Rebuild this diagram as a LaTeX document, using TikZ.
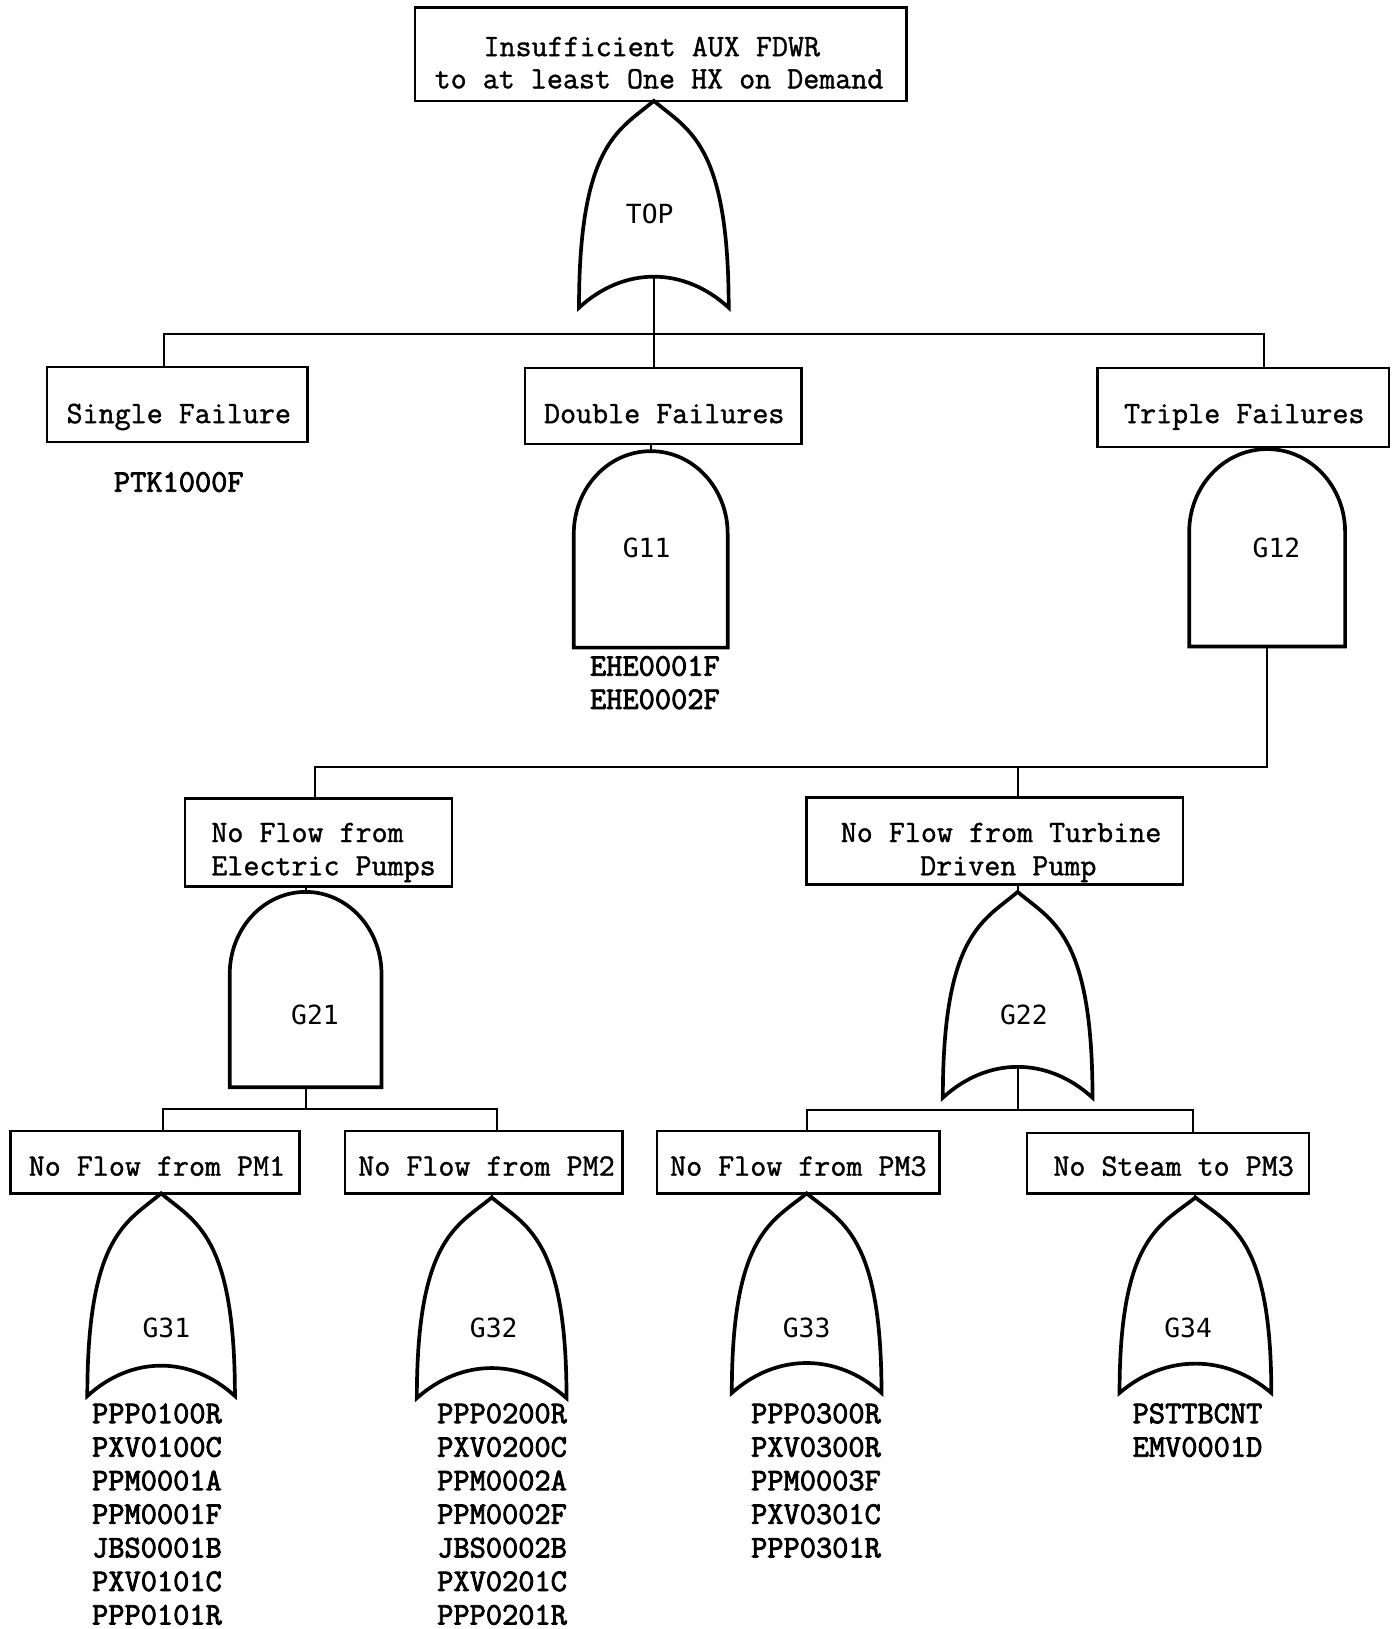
\documentclass[tikz,border=0pt]{standalone}
\usepackage{fontspec}
\setmainfont{Liberation Serif}
\newfontfamily\boxfont{Latin Modern Mono}[FakeBold=1.2]
\newfontfamily\gatefont{DejaVu Sans Mono}
\newfontfamily\codefont{Latin Modern Mono}[FakeBold=2.6]
\def\pxu{0.02079cm}
\newcommand\orgate[8]{%
  \draw[gatestyle] (#2,#3) .. controls ({#2-0.45*#4},{#3+0.14*#5}) and ({#2-#4},{#3+0.2*#5}) .. ({#2-#4},{#3+#5})
    .. controls ({#2-0.4*#4},{#3+0.8*#5}) and ({#2+0.4*#4},{#3+0.8*#5}) .. ({#2+#4},{#3+#5})
    .. controls ({#2+#4},{#3+0.2*#5}) and ({#2+0.45*#4},{#3+0.14*#5}) .. cycle;
  \coordinate (#1-in) at (#2,#3);
  \coordinate (#1-out) at (#2,{#3+0.85*#5});
  \node[gatelbl] (#1) at (#7,#8) {#6};}
\newcommand\andgate[8]{%
  \draw[gatestyle] ({#2-#4},{#3+#5}) -- ({#2-#4},{#3+0.42*#5})
    .. controls ({#2-#4},{#3+0.42*#5-0.5523*0.42*#5}) and ({#2-0.5523*#4},#3) .. (#2,#3)
    .. controls ({#2+0.5523*#4},#3) and ({#2+#4},{#3+0.42*#5-0.5523*0.42*#5}) .. ({#2+#4},{#3+0.42*#5})
    -- ({#2+#4},{#3+#5}) -- cycle;
  \coordinate (#1-in) at (#2,#3);
  \coordinate (#1-out) at (#2,{#3+#5});
  \node[gatelbl] (#1) at (#7,#8) {#6};}
\begin{document}
\begin{tikzpicture}[x=\pxu,y=-\pxu,
  box/.style={draw, line width=1.4pt, rectangle, inner sep=0pt},
  boxtxt/.style={font=\boxfont\fontsize{17.7}{21}\selectfont, anchor=base, inner sep=0pt},
  gatestyle/.style={draw, line width=2.1pt, line join=miter},
  gatelbl/.style={font=\gatefont\fontsize{15}{18}\selectfont, anchor=base, inner sep=0pt},
  conn/.style={line width=1.2pt},
  code/.style={font=\codefont\fontsize{17.9}{21}\selectfont, anchor=base, inner sep=0pt}]
\useasboundingbox (0,0) rectangle (1340.1,1567.1);

% boxes
\node[box, minimum width=473*\pxu, minimum height=90*\pxu] (topev) at (635.5,52) {};
\node[box, minimum width=251*\pxu, minimum height=72*\pxu] (single) at (170.5,389) {};
\node[box, minimum width=266*\pxu, minimum height=73*\pxu] (double) at (638,390.5) {};
\node[box, minimum width=280*\pxu, minimum height=76*\pxu] (triple) at (1196,392) {};
\node[box, minimum width=257*\pxu, minimum height=85*\pxu] (elec) at (306.5,810.5) {};
\node[box, minimum width=362*\pxu, minimum height=84*\pxu] (turb) at (957,809) {};
\node[box, minimum width=278*\pxu, minimum height=60*\pxu] (pm1) at (149,1118) {};
\node[box, minimum width=267*\pxu, minimum height=60*\pxu] (pm2) at (465.5,1118) {};
\node[box, minimum width=272*\pxu, minimum height=60*\pxu] (pm3) at (768,1118) {};
\node[box, minimum width=271*\pxu, minimum height=58*\pxu] (steam) at (1123.5,1119) {};

% box texts
\node[boxtxt] (topev-l1) at (627,54) {Insufficient AUX FDWR};
\node[boxtxt] (topev-l2) at (634,85) {to at least One HX on Demand};
\node[boxtxt] (single-t) at (172,407) {Single Failure};
\node[boxtxt] (double-t) at (639,407) {Double Failures};
\node[boxtxt] (triple-t) at (1197,407) {Triple Failures};
\node[boxtxt, anchor=base west] (elec-l1) at (203,810) {No Flow from};
\node[boxtxt, anchor=base west] (elec-l2) at (203,842) {Electric Pumps};
\node[boxtxt] (turb-l1) at (963,810) {No Flow from Turbine};
\node[boxtxt] (turb-l2) at (970,842) {Driven Pump};
\node[boxtxt] (pm1-t) at (151,1131) {No Flow from PM1};
\node[boxtxt] (pm2-t) at (468,1131) {No Flow from PM2};
\node[boxtxt] (pm3-t) at (768,1131) {No Flow from PM3};
\node[boxtxt] (steam-t) at (1129,1131) {No Steam to PM3};

% gates
\orgate{gTOP}{629}{97}{72}{199}{TOP}{625}{215}
\andgate{g11}{626}{434}{74}{189}{G11}{622}{536}
\andgate{g12}{1219}{432}{75}{190}{G12}{1228}{536}
\andgate{g21}{294}{858}{73}{188}{G21}{303}{986}
\orgate{g22}{979}{858}{72}{198}{G22}{985}{986}
\orgate{g31}{155}{1148}{71}{195}{G31}{160}{1287}
\orgate{g32}{473}{1152}{72}{193}{G32}{475}{1287}
\orgate{g33}{776}{1148}{72}{192}{G33}{776}{1287}
\orgate{g34}{1150}{1152}{73}{188}{G34}{1143}{1287}

% connectors
\coordinate (j1) at (158,321);
\coordinate (j3) at (1216,321);
\draw[conn] (j1 |- single.north) -- (j1) -- (j3) -- (j3 |- triple.north);
\draw[conn] (gTOP-out) -- (gTOP-out |- double.north);
\draw[conn] (double.south -| g11-in) -- (g11-in);
\draw[conn] (triple.south -| g12-in) -- (g12-in);
\coordinate (j4) at (303,738);
\coordinate (j6) at (979,738);
\draw[conn] (g12-out) -- (g12-out |- j4) -- (j4) -- (j4 |- elec.north);
\draw[conn] (j6) -- (j6 |- turb.north);
\draw[conn] (elec.south -| g21-in) -- (g21-in);
\coordinate (j7) at (157,1067);
\coordinate (j8) at (478,1067);
\draw[conn] (g21-out) -- (g21-out |- j7);
\draw[conn] (j7 |- pm1.north) -- (j7) -- (j8) -- (j8 |- pm2.north);
\draw[conn] (turb.south -| g22-in) -- (g22-in);
\coordinate (j9) at (776,1068);
\coordinate (j10) at (1148,1068);
\draw[conn] (g22-out) -- (g22-out |- j9);
\draw[conn] (j9 |- pm3.north) -- (j9) -- (j10) -- (j10 |- steam.north);
\draw[conn] (pm1.south -| g31-in) -- (g31-in);
\draw[conn] (pm2.south -| g32-in) -- (g32-in);
\draw[conn] (pm3.south -| g33-in) -- (g33-in);
\draw[conn] (steam.south -| g34-in) -- (g34-in);

% basic event codes
\node[code] (ptk) at (172,473) {PTK1000F};
\node[code] (ehe1) at (630,650) {EHE0001F};
\node[code] (ehe2) at (630,682) {EHE0002F};
\foreach \t [count=\i from 0] in {PPP0100R,PXV0100C,PPM0001A,PPM0001F,JBS0001B,PXV0101C,PPP0101R}
  \node[code] (c31-\i) at (151,{1369+32.3*\i}) {\t};
\foreach \t [count=\i from 0] in {PPP0200R,PXV0200C,PPM0002A,PPM0002F,JBS0002B,PXV0201C,PPP0201R}
  \node[code] (c32-\i) at (483,{1369+32.3*\i}) {\t};
\foreach \t [count=\i from 0] in {PPP0300R,PXV0300R,PPM0003F,PXV0301C,PPP0301R}
  \node[code] (c33-\i) at (785,{1369+32.3*\i}) {\t};
\foreach \t [count=\i from 0] in {PSTTBCNT,EMV0001D}
  \node[code] (c34-\i) at (1152,{1369+32.3*\i}) {\t};
\end{tikzpicture}
\end{document}
